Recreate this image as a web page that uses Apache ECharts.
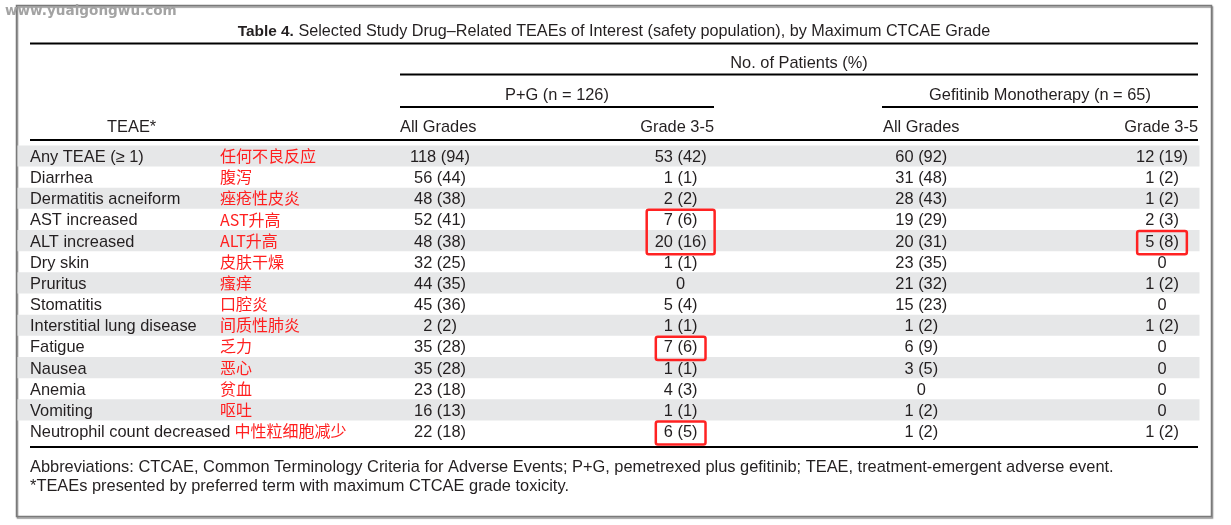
<!DOCTYPE html>
<html><head><meta charset="utf-8">
<script src="https://cdn.jsdelivr.net/npm/echarts@6/dist/echarts.min.js"></script>
<style>html,body{margin:0;padding:0;background:#fff}#c{width:1231px;height:525px}</style>
</head><body><div id="c"></div>
<script>
// ---------- data ----------
const rowLabels = ['Any TEAE (\u2265 1)', 'Diarrhea', 'Dermatitis acneiform', 'AST increased', 'ALT increased',
  'Dry skin', 'Pruritus', 'Stomatitis', 'Interstitial lung disease', 'Fatigue', 'Nausea', 'Anemia', 'Vomiting',
  'Neutrophil count decreased'];
const rowLabelsZh = ['任何不良反应', '腹泻', '痤疮性皮炎', 'AST升高', 'ALT升高', '皮肤干燥', '瘙痒', '口腔炎',
  '间质性肺炎', '乏力', '恶心', '贫血', '呕吐', '中性粒细胞减少'];
const columns = ['P+G All Grades', 'P+G Grade 3-5', 'Gefitinib All Grades', 'Gefitinib Grade 3-5'];
const pgAllN     = [118, 56, 48, 52, 48, 32, 44, 45, 2, 35, 35, 23, 16, 22];
const pgAllPct   = [94, 44, 38, 41, 38, 25, 35, 36, 2, 28, 28, 18, 13, 18];
const pgG35N     = [53, 1, 2, 7, 20, 1, 0, 5, 1, 7, 1, 4, 1, 6];
const pgG35Pct   = [42, 1, 2, 6, 16, 1, 0, 4, 1, 6, 1, 3, 1, 5];
const gefAllN    = [60, 31, 28, 19, 20, 23, 21, 15, 1, 6, 3, 0, 1, 1];
const gefAllPct  = [92, 48, 43, 29, 31, 35, 32, 23, 2, 9, 5, 0, 2, 2];
const gefG35N    = [12, 1, 1, 2, 5, 0, 1, 0, 1, 0, 0, 0, 0, 1];
const gefG35Pct  = [19, 2, 2, 3, 8, 0, 2, 0, 2, 0, 0, 0, 0, 2];
// highlighted (red boxed) cells: column index, first row, last row
const highlightCol   = [1, 3, 1, 1];
const highlightStart = [3, 4, 9, 13];
const highlightEnd   = [4, 4, 9, 13];

const titleBold = 'Table 4.';
const titleText = 'Selected Study Drug\u2013Related TEAEs of Interest (safety population), by Maximum CTCAE Grade';
const footnote1 = 'Abbreviations: CTCAE, Common Terminology Criteria for Adverse Events; P+G, pemetrexed plus gefitinib; TEAE, treatment-emergent adverse event.';
const footnote2 = '*TEAEs presented by preferred term with maximum CTCAE grade toxicity.';
const watermark = 'www.yuaigongwu.com';

// ---------- helpers ----------
const FONT = '"Liberation Sans", Arial, sans-serif';
const FS = '16.4px ';
const CJK = '"Noto Sans CJK SC", sans-serif';
const INK = '#231f20';
const DY = 1.5; // baseline nudge for latin text
const colN = [pgAllN, pgG35N, gefAllN, gefG35N];
const colP = [pgAllPct, pgG35Pct, gefAllPct, gefG35Pct];
function cellText(c, r) {
  const n = colN[c][r];
  return n === 0 ? '0' : n + ' (' + colP[c][r] + ')';
}
const mctx = document.createElement('canvas').getContext('2d');
function measure(t, font) { mctx.font = font; return mctx.measureText(t).width; }

const cellData = [];
for (let c = 0; c < columns.length; c++) for (let r = 0; r < rowLabels.length; r++) cellData.push([c, r]);
const rowData = rowLabels.map((_, i) => [0, i]);
const boxData = highlightCol.map((c, i) => [c, highlightStart[i], highlightEnd[i]]);

const chart = echarts.init(document.getElementById('c'), null, {renderer: 'canvas'});

function hline(x1, x2, y) {
  return {type: 'line', silent: true, shape: {x1, y1: y, x2, y2: y}, style: {stroke: '#000', lineWidth: 2}};
}
function txt(x, y, text, align, extra) {
  return {type: 'text', silent: true, x, y,
    style: Object.assign({text, font: FS + FONT, fill: INK, align, verticalAlign: 'middle'}, extra || {})};
}

const option = {
  animation: false,
  backgroundColor: '#fff',
  grid: {left: 440, right: 69, top: 145.4, height: 296.2},
  xAxis: {type: 'category', data: columns, boundaryGap: false, show: false},
  yAxis: {type: 'category', data: rowLabels, inverse: true, show: false},
  graphic: [
    // outer frame
    {type: 'rect', silent: true, z: -1, shape: {x: 16.5, y: 5.5, width: 1195, height: 511},
      style: {fill: 'none', stroke: '#7a7a7a', lineWidth: 1.5, shadowColor: 'rgba(0,0,0,0.45)', shadowOffsetX: 1, shadowOffsetY: 1.5, shadowBlur: 1}},
    {type: 'text', silent: true, x: 5, y: 11,
      style: {text: watermark, font: 'bold 13.6px "DejaVu Sans", sans-serif', fill: '#a3a3a3', verticalAlign: 'middle'}},
    {type: 'text', silent: true, x: 614, y: 32,
      style: {text: '{b|' + titleBold + '} ' + titleText, align: 'center', verticalAlign: 'middle',
        font: '16.2px ' + FONT, fill: INK,
        rich: {b: {font: 'bold 15.4px ' + FONT, fill: INK}}}},
    hline(30, 1198, 43.5),
    txt(799, 63, 'No. of Patients (%)', 'center'),
    hline(400, 1198, 74.5),
    txt(557, 95, 'P+G (n = 126)', 'center'),
    txt(1040, 95, 'Gefitinib Monotherapy (n = 65)', 'center'),
    hline(400, 714, 107),
    hline(882, 1198, 107),
    txt(107, 127, 'TEAE*', 'left'),
    txt(400, 127, 'All Grades', 'left'),
    txt(714, 127, 'Grade 3-5', 'right'),
    txt(883, 127, 'All Grades', 'left'),
    txt(1198, 127, 'Grade 3-5', 'right'),
    hline(30, 1198, 140),
    hline(30, 1198, 447),
    txt(30, 467, footnote1, 'left'),
    txt(30, 486.5, footnote2, 'left')
  ],
  series: [
    { // zebra row shading
      type: 'custom', silent: true, clip: false, z: 1,
      encode: {x: 0, y: 1},
      data: rowData,
      renderItem: function (params, api) {
        const r = api.value(1);
        if (r % 2 !== 0) return null;
        const p = api.coord([0, r]);
        const h = api.size([0, 1])[1];
        return {type: 'rect', shape: {x: 17.5, y: p[1] - h / 2, width: 1182, height: h}, style: {fill: '#e6e7e8'}};
      }
    },
    { // row labels (English + Chinese)
      type: 'custom', silent: true, clip: false, z: 3,
      encode: {x: 0, y: 1},
      data: rowData,
      renderItem: function (params, api) {
        const r = api.value(1);
        const p = api.coord([0, r]);
        const en = rowLabels[r];
        const w = measure(en, FS + FONT);
        const zx = Math.max(220, 30 + w + 4);
        return {type: 'group', children: [
          {type: 'text', style: {text: en, x: 30, y: p[1] + DY, font: FS + FONT, fill: INK, align: 'left', verticalAlign: 'middle'}},
          {type: 'text', style: {text: rowLabelsZh[r], x: zx, y: p[1], font: '16px ' + CJK, fill: '#ff1f1f', align: 'left', verticalAlign: 'middle'}}
        ]};
      }
    },
    { // cell values
      type: 'custom', silent: true, clip: false, z: 3,
      encode: {x: 0, y: 1},
      data: cellData,
      renderItem: function (params, api) {
        const c = api.value(0), r = api.value(1);
        const p = api.coord([c, r]);
        return {type: 'text', style: {text: cellText(c, r), x: p[0], y: p[1] + DY, font: FS + FONT, fill: INK, align: 'center', verticalAlign: 'middle'}};
      }
    },
    { // red highlight boxes
      type: 'custom', silent: true, clip: false, z: 4,
      encode: {x: 0, y: 1},
      data: boxData,
      renderItem: function (params, api) {
        const c = api.value(0), r0 = api.value(1), r1 = api.value(2);
        const a = api.coord([c, r0]), b = api.coord([c, r1]);
        const h = api.size([0, 1])[1];
        let w = 0;
        for (let r = r0; r <= r1; r++) w = Math.max(w, measure(cellText(c, r), FS + FONT));
        const padX = 8;
        return {type: 'rect', shape: {x: a[0] - w / 2 - padX, y: a[1] - h / 2 + 1, width: w + 2 * padX, height: b[1] - a[1] + h + 2, r: 2},
          style: {fill: 'none', stroke: '#ff2222', lineWidth: 2.5}};
      }
    }
  ]
};
chart.setOption(option);
</script></body></html>
